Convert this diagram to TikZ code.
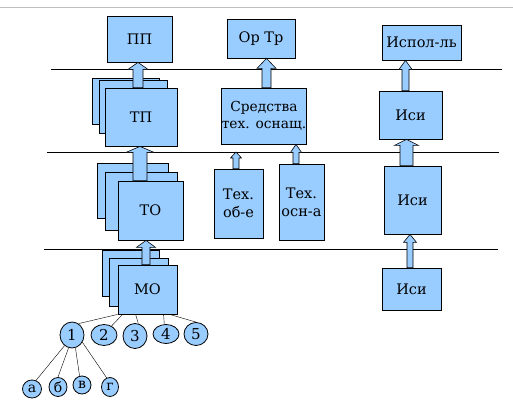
\documentclass[tikz,border=0pt]{standalone}
\usepackage{fontspec}
\setmainfont{DejaVu Serif}
\newfontfamily\diagfont{DejaVu Serif}
\usetikzlibrary{calc}
\usetikzlibrary{shapes.geometric}

\definecolor{boxblue}{HTML}{99CCFF}

% block arrow from the top of one node up to the bottom of another
\newcommand{\blkarrow}[6]{%
\draw [arrowbody] let \p1=(#2), \p2=(#3) in
 (#1pt-#4pt,\y1) -- (#1pt-#4pt,\y2-#6pt) -- (#1pt-#5pt,\y2-#6pt) -- (#1pt,\y2)
 -- (#1pt+#5pt,\y2-#6pt) -- (#1pt+#4pt,\y2-#6pt) -- (#1pt+#4pt,\y1) -- cycle;
}

\begin{document}
\begin{tikzpicture}[x=1pt,y=-1pt,
 blk/.style={draw, line width=0.8pt, fill=boxblue, rectangle, inner sep=0pt, align=center, font=\diagfont\fontsize{14.5}{18}\selectfont},
 elem/.style={draw, line width=0.8pt, fill=boxblue, ellipse, inner sep=0pt, font=\diagfont\fontsize{15}{17}\selectfont},
 subelem/.style={elem, font=\diagfont\fontsize{14}{16}\selectfont},
 arrowbody/.style={draw, line width=0.6pt, fill=boxblue}]

\useasboundingbox (0,0) rectangle (513,411);
\draw [black!25, line width=1pt] (0,8) -- (513,8);

% levels
\coordinate (l1w) at (51,69); \coordinate (l1e) at (502,69);
\coordinate (l2w) at (47,152); \coordinate (l2e) at (499,152);
\coordinate (l3w) at (44,249); \coordinate (l3e) at (498,249);
\draw (l1w) -- (l1e);
\draw (l2w) -- (l2e);
\draw (l3w) -- (l3e);

% first column
\node (pp) [blk, minimum width=65, minimum height=46] at (139.5,39) {ПП};

\node (tp_b1) [blk, minimum width=67, minimum height=46] at (125.5,101) {};
\node (tp_b2) [blk, minimum width=68, minimum height=53] at (133,106.5) {};
\node (tp) [blk, minimum width=72, minimum height=58] at (141,117) {ТП};

\node (to_b1) [blk, minimum width=71, minimum height=55] at (132.5,190.5) {};
\node (to_b2) [blk, minimum width=72, minimum height=58] at (141,201) {};
\node (to) [blk, minimum width=65, minimum height=59] at (150.5,210.5) {ТО};

\node (mo_b1) [blk, minimum width=57, minimum height=46] at (130.5,273) {};
\node (mo_b2) [blk, minimum width=59, minimum height=48] at (138.5,282) {};
\node (mo) [blk, minimum width=59, minimum height=49] at (147.5,289.5) {МО};

% second column
\node (ortr) [blk, minimum width=68, minimum height=39] at (261,38.5) {Ор Тр};
\node (sred) [blk, minimum width=84, minimum height=56, font=\diagfont\fontsize{13.8}{17.5}\selectfont] at (264,116) {Средства\\тех. оснащ.};
\node (tob) [blk, minimum width=49, minimum height=69] at (238.5,203.5) {Тех.\\об-е};
\node (tosn) [blk, minimum width=45, minimum height=76] at (301.5,202) {Тех.\\осн-а};

% third column
\node (isp) [blk, minimum width=79, minimum height=35] at (421.5,42.5) {Испол-ль};
\node (isi_1) [blk, minimum width=63, minimum height=48] at (410.5,115) {Иси};
\node (isi_2) [blk, minimum width=57, minimum height=68] at (412.5,200) {Иси};
\node (isi_3) [blk, minimum width=59, minimum height=42] at (411.5,289) {Иси};

% arrows
\blkarrow{138}{tp.north}{pp.south}{5}{10}{7}
\blkarrow{140}{to.north}{tp.south}{7}{14}{6}
\blkarrow{146}{mo.north}{to.south}{4}{9.5}{7}
\blkarrow{266.5}{sred.north}{ortr.south}{4.5}{9.5}{10}
\blkarrow{236}{tob.north}{l2w}{3}{5.5}{6}
\blkarrow{296}{tosn.north}{sred.south}{3}{5.5}{8}
\blkarrow{405.5}{isi_1.north}{isp.south}{3.5}{6.5}{9}
\blkarrow{406.5}{isi_2.north}{isi_1.south}{6.5}{12}{6}
\blkarrow{410}{isi_3.north}{isi_2.south}{3}{6.5}{8}

% parts of MO
\node (c1) [elem, minimum width=24, minimum height=26] at (72,335) {1};
\node (c2) [elem, minimum width=26, minimum height=21] at (104,335) {2};
\node (c3) [elem, minimum width=24, minimum height=25] at (135,336) {3};
\node (c4) [elem, minimum width=26, minimum height=19] at (166,334) {4};
\node (c5) [elem, minimum width=24, minimum height=23] at (196,334) {5};

\draw (mo.south west) -- (c1.60);
\draw ($(mo.south west)+(5,0)$) -- (c2.50);
\draw ($(mo.south west)+(18,0)$) -- (c3.75);
\draw ($(mo.south west)+(46,0)$) -- (c4.100);
\draw ($(mo.south west)+(52,0)$) -- (c5.north);

% parts of 1
\node (sa) [subelem, minimum width=19, minimum height=18] at (32,389) {а};
\node (sb) [subelem, minimum width=18, minimum height=19] at (58,387) {б};
\node (sv) [subelem, minimum width=18, minimum height=18] at (82,385) {в};
\node (sg) [subelem, minimum width=17, minimum height=19] at (110,387) {г};

\draw (c1.235) -- (sa.65);
\draw (c1.255) -- (sb.north);
\draw (c1.285) -- (sv.105);
\draw (c1.325) -- (sg.110);
\end{tikzpicture}
\end{document}
